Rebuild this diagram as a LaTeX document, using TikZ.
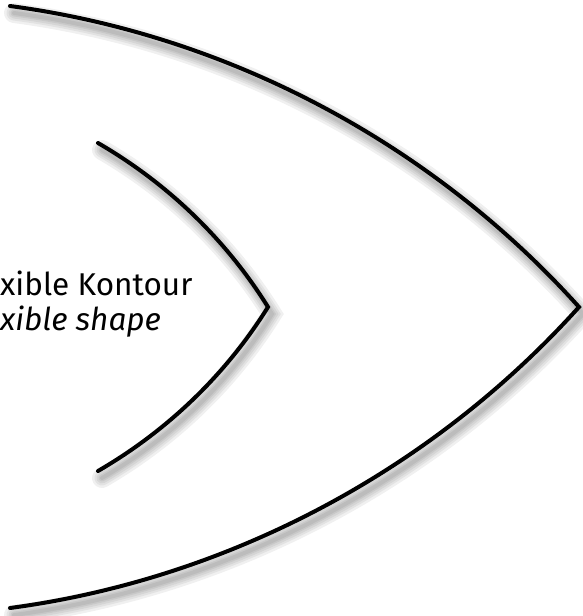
\documentclass[tikz,border=0pt]{standalone}
\usepackage{fontspec}
\setmainfont{Fira Sans}
\begin{document}
\begin{tikzpicture}[x=1pt,y=-1pt,
  contour/.style={line width=4pt,line cap=round,line join=miter},
  blur/.style={line width=#1,line cap=round,black,opacity=0.06,shift={(4,7)}}]
\useasboundingbox (0,0) rectangle (582,616);
\foreach \w in {20pt,15pt,11pt,7pt,4pt}{
\draw[blur=\w] (10,6) .. controls (228,35) and (432,143.5) .. (579,307) .. controls (432,470.5) and (228,579) .. (10,608);
\draw[blur=\w] (98,143) .. controls (167,183) and (225.6,239) .. (268,307) .. controls (225.6,375) and (167,431) .. (98,471);
}
\draw[contour] (10,6) .. controls (228,35) and (432,143.5) .. (579,307) .. controls (432,470.5) and (228,579) .. (10,608);
\draw[contour] (98,143) .. controls (167,183) and (225.6,239) .. (268,307) .. controls (225.6,375) and (167,431) .. (98,471);
\node[anchor=base west,align=left,inner sep=0pt,font=\fontsize{31.5}{35}\selectfont] (kontour) at (0,330) {xible Kontour\\\textit{xible shape}};
\end{tikzpicture}
\end{document}
